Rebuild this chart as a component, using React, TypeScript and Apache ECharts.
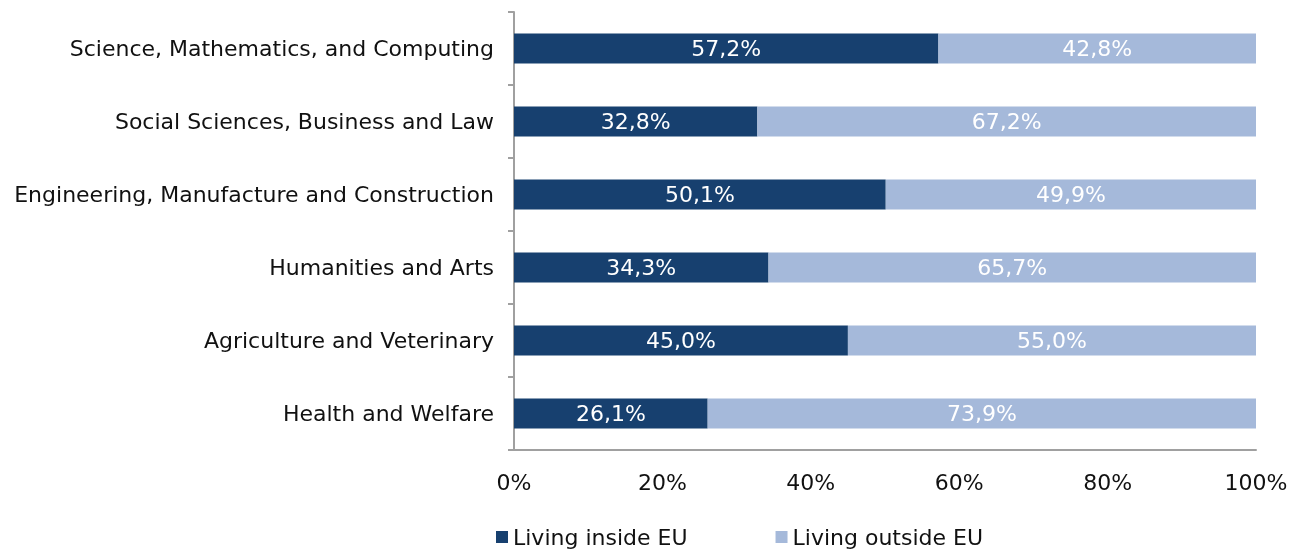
import React, { useEffect, useRef } from "react";
import * as echarts from "echarts";

// Fields of study, top to bottom as drawn
const categories = [
  "Science, Mathematics, and Computing",
  "Social Sciences, Business and Law",
  "Engineering, Manufacture and Construction",
  "Humanities and Arts",
  "Agriculture and Veterinary",
  "Health and Welfare",
];
const insideEU = [57.2, 32.8, 50.1, 34.3, 45.0, 26.1];
const outsideEU = [42.8, 67.2, 49.9, 65.7, 55.0, 73.9];
const seriesNames = ["Living inside EU", "Living outside EU"];

const FONT = "'DejaVu Sans', sans-serif";
const FS = 22;

const fmt = (v: number) => v.toFixed(1).replace(".", ",") + "%";

export default function App() {
  const ref = useRef<HTMLDivElement>(null);

  useEffect(() => {
    if (!ref.current) return;
    const chart = echarts.init(ref.current, null, { renderer: "svg" });
    // category axis is inverted so the first entry sits on top
    const yCats = [...categories].reverse();
    const inside = [...insideEU].reverse();
    const outside = [...outsideEU].reverse();
    const labelStyle = {
      show: true,
      position: "inside" as const,
      color: "#ffffff",
      fontSize: FS,
      fontFamily: FONT,
      formatter: (p: any) => fmt(p.value),
    };
    chart.setOption({
      animation: false,
      grid: { left: 514, right: 42, top: 12, bottom: 102, containLabel: false },
      legend: {
        top: 526,
        left: 496,
        padding: 0,
        itemWidth: 12,
        itemHeight: 12,
        itemGap: 88,
        icon: "rect",
        textStyle: { fontSize: FS, fontFamily: FONT, color: "#111" },
        data: seriesNames,
      },
      xAxis: {
        type: "value",
        min: 0,
        max: 100,
        interval: 20,
        axisLine: { show: true, lineStyle: { color: "#a0a0a0", width: 2 } },
        axisTick: { show: false },
        splitLine: { show: false },
        axisLabel: {
          formatter: "{value}%",
          fontSize: FS,
          fontFamily: FONT,
          color: "#111",
          margin: 21,
        },
      },
      yAxis: {
        type: "category",
        data: yCats,
        axisLine: { show: true, lineStyle: { color: "#a0a0a0", width: 2 } },
        axisTick: { show: true, length: 6, lineStyle: { color: "#a0a0a0", width: 2 } },
        axisLabel: { fontSize: FS, fontFamily: FONT, color: "#111", margin: 20 },
      },
      series: [
        {
          name: seriesNames[0],
          type: "bar",
          stack: "total",
          data: inside,
          barWidth: 30,
          itemStyle: { color: "#17406f" },
          label: labelStyle,
        },
        {
          name: seriesNames[1],
          type: "bar",
          stack: "total",
          data: outside,
          barWidth: 30,
          itemStyle: { color: "#a5b9da" },
          label: labelStyle,
        },
      ],
    });
    return () => chart.dispose();
  }, []);

  // fixed to the viewport so the chart fills the whole window
  return (
    <div
      ref={ref}
      style={{ position: "fixed", left: 0, top: 0, width: 1298, height: 552 }}
    />
  );
}
